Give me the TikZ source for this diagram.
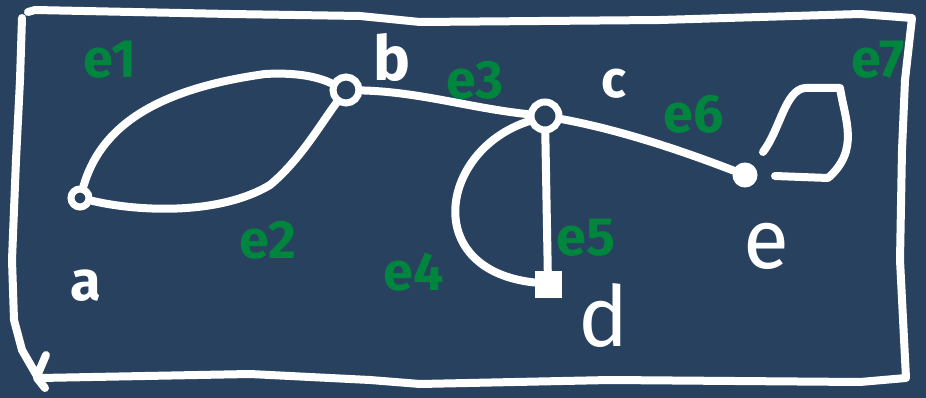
\documentclass[tikz,border=0pt]{standalone}
\usepackage{fontspec}
\setmainfont{Fira Sans}
\usetikzlibrary{arrows.meta}
\definecolor{bg}{RGB}{40,65,95}
\definecolor{gr}{RGB}{0,133,62}
\begin{document}
\begin{tikzpicture}[x=1pt,y=-1pt,
  stroke/.style={draw=white,line width=8pt,line cap=round,line join=round},
  vtx/.style={circle,draw=white,line width=7pt,inner sep=0pt,minimum size=#1},
  fvtx/.style={fill=white,draw=white,line width=3pt,inner sep=0pt,minimum size=#1},
  vlab/.style={text=white,font=\fontsize{#1}{#1}\selectfont\bfseries,inner sep=0pt},
  vlabl/.style={text=white,font=\fontsize{#1}{#1}\selectfont\mdseries,inner sep=0pt},
  elab/.style={text=gr,font=\fontsize{54}{54}\selectfont\bfseries,inner sep=0pt}]
\fill[bg] (0,0) rectangle (926,398);
\useasboundingbox (0,0) rectangle (926,398);
% frame
\draw[stroke] (28,12) -- (35,10) -- (230,14) -- (360,16) -- (420,22) -- (660,20) -- (860,14) -- (912,18)
  -- (905,80) -- (902,150) -- (900,260) -- (906,378) -- (860,382) -- (610,380) -- (420,384) -- (370,380) -- (250,374) -- (40,378);
\draw[stroke] (22,18) -- (20,80) -- (16,160) -- (12,260) -- (14,320) -- (22,350) -- (37,376) -- (46,355);
\draw[stroke] (37,378) -- (45,388);
% vertices
\node[vtx=18pt] (a) at (80,198) {};
\node[vtx=26pt] (b) at (346,90) {};
\node[vtx=28pt] (c) at (545,116) {};
\node[fvtx=24pt] (d) at (548,284) {};
\node[fvtx=22pt,circle] (e) at (745,175) {};
% edges
\draw[stroke] (a) .. controls (100,130) and (150,90) .. (265,74) .. controls (300,72) and (320,78) .. (b);
\draw[stroke] (a) .. controls (140,212) and (220,215) .. (270,185) .. controls (300,160) and (320,125) .. (b);
\draw[stroke] (b) .. controls (420,92) and (470,108) .. (c);
\draw[stroke] (c) .. controls (440,150) and (420,270) .. (d);
\draw[stroke] (c) -- (d);
\draw[stroke] (c) .. controls (620,130) and (680,150) .. (e);
\coordinate (l1) at (763,152);
\coordinate (l2) at (775,176);
\draw[stroke] (l1) .. controls (780,130) and (785,90) .. (805,88) -- (840,88) .. controls (845,120) and (860,150) .. (828,178) -- (l2);
% vertex labels
\node[vlab=56] (la) at (86,286) {a};
\node[vlab=62] (lb) at (392,58) {b};
\node[vlab=52] (lc) at (614,84) {c};
\node[vlabl=84] (ld) at (604,316) {d};
\node[vlabl=84] (le) at (766,246) {e};
% edge labels
\node[elab] (e1) at (110,60) {e1};
\node[elab] (e2) at (268,240) {e2};
\node[elab] (e3) at (475,80) {e3};
\node[elab] (e4) at (414,272) {e4};
\node[elab] (e5) at (586,238) {e5};
\node[elab] (e6) at (694,114) {e6};
\node[elab] (e7) at (878,60) {e7};
\end{tikzpicture}
\end{document}
